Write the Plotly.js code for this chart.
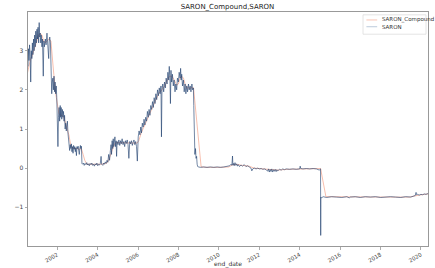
<!DOCTYPE html>
<html>
<head>
<meta charset="utf-8">
<script src="https://cdn.plot.ly/plotly-3.0.1.min.js"></script>
<style>html,body{margin:0;padding:0;background:#fff}#chart{width:435px;height:268px}</style>
</head>
<body>
<div id="chart"></div>
<script>
// SARON overnight rate (%)
const saronDates = [
"2000-07-01","2000-07-10","2000-07-20","2000-08-01","2000-08-10","2000-08-20","2000-09-01","2000-09-10","2000-09-20","2000-10-01","2000-10-10","2000-10-20",
"2000-11-01","2000-11-10","2000-11-20","2000-12-01","2000-12-10","2000-12-20","2001-01-01","2001-01-10","2001-01-20","2001-02-01","2001-02-10","2001-02-20",
"2001-03-01","2001-03-10","2001-03-20","2001-04-01","2001-04-10","2001-04-25","2001-05-05","2001-05-15","2001-06-01","2001-06-15","2001-07-01","2001-07-10",
"2001-07-20","2001-08-01","2001-08-10","2001-08-20","2001-09-01","2001-09-15","2001-09-25","2001-10-05","2001-10-15","2001-10-25","2001-11-05","2001-11-15",
"2001-11-25","2001-12-05","2001-12-15","2001-12-25","2002-01-05","2002-01-15","2002-01-25","2002-02-05","2002-02-15","2002-02-25","2002-03-05","2002-03-15",
"2002-03-25","2002-04-05","2002-04-15","2002-04-25","2002-05-05","2002-05-15","2002-05-25","2002-06-05","2002-06-15","2002-06-25","2002-07-05","2002-07-15",
"2002-07-25","2002-08-05","2002-08-15","2002-08-25","2002-09-05","2002-09-15","2002-09-25","2002-10-05","2002-10-15","2002-10-25","2002-11-05","2002-11-15",
"2002-11-25","2002-12-05","2002-12-15","2002-12-25","2003-01-05","2003-01-15","2003-01-25","2003-02-05","2003-02-15","2003-02-25","2003-03-05","2003-03-15",
"2003-03-25","2003-04-05","2003-04-20","2003-05-05","2003-05-20","2003-06-05","2003-06-20","2003-07-05","2003-07-20","2003-08-05","2003-08-20","2003-09-05",
"2003-09-20","2003-10-05","2003-10-20","2003-11-05","2003-11-20","2003-12-05","2003-12-20","2004-01-05","2004-01-20","2004-02-05","2004-02-20","2004-03-05",
"2004-03-15","2004-04-05","2004-04-20","2004-05-05","2004-05-20","2004-06-05","2004-06-20","2004-07-05","2004-07-20","2004-08-05","2004-08-20","2004-09-01",
"2004-09-10","2004-09-20","2004-10-01","2004-10-10","2004-10-20","2004-11-01","2004-11-10","2004-11-20","2004-12-01","2004-12-10","2004-12-20","2005-01-05",
"2005-01-20","2005-02-05","2005-02-20","2005-03-05","2005-03-20","2005-04-05","2005-04-20","2005-05-05","2005-05-20","2005-06-05","2005-06-20","2005-07-05",
"2005-07-20","2005-08-05","2005-08-20","2005-09-05","2005-09-20","2005-10-05","2005-10-20","2005-11-05","2005-11-20","2005-12-05","2005-12-20","2006-01-05",
"2006-01-20","2006-02-05","2006-02-20","2006-03-05","2006-03-20","2006-04-05","2006-04-20","2006-05-05","2006-05-20","2006-06-05","2006-06-20","2006-07-05",
"2006-07-20","2006-08-05","2006-08-20","2006-09-05","2006-09-20","2006-10-05","2006-10-20","2006-11-05","2006-11-20","2006-12-05","2006-12-20","2007-01-05",
"2007-01-20","2007-02-05","2007-02-20","2007-03-01","2007-03-10","2007-03-25","2007-04-10","2007-04-25","2007-05-10","2007-05-25","2007-06-10","2007-06-25",
"2007-07-10","2007-07-20","2007-08-01","2007-08-10","2007-08-20","2007-09-01","2007-09-15","2007-10-01","2007-10-15","2007-11-01","2007-11-15","2007-12-01",
"2007-12-15","2008-01-01","2008-01-15","2008-02-01","2008-02-10","2008-02-20","2008-03-01","2008-03-15","2008-04-01","2008-04-15","2008-05-01","2008-05-15",
"2008-06-01","2008-06-15","2008-07-01","2008-07-15","2008-08-01","2008-08-15","2008-09-01","2008-09-15","2008-09-28","2008-10-05","2008-10-15","2008-10-25",
"2008-11-05","2008-11-15","2008-11-25","2008-12-05","2008-12-15","2009-01-01","2009-02-01","2009-04-01","2009-06-01","2009-08-01","2009-10-01","2009-12-01",
"2010-02-01","2010-04-01","2010-06-01","2010-07-15","2010-08-10","2010-08-25","2010-09-05","2010-09-12","2010-09-25","2010-10-05","2010-10-20","2010-11-05",
"2010-11-20","2010-12-05","2010-12-20","2011-01-10","2011-02-05","2011-03-05","2011-04-05","2011-05-05","2011-06-05","2011-07-05","2011-08-05","2011-08-20",
"2011-09-05","2011-10-05","2011-11-05","2011-12-05","2012-01-05","2012-02-05","2012-03-05","2012-04-05","2012-05-05","2012-06-01","2012-06-15","2012-07-01",
"2012-07-15","2012-08-01","2012-08-15","2012-09-01","2012-09-15","2012-10-01","2012-10-15","2012-11-01","2012-11-15","2012-12-01","2013-01-01","2013-02-01",
"2013-03-01","2013-04-01","2013-05-01","2013-07-01","2013-09-01","2013-11-01","2014-01-01","2014-01-10","2014-01-20","2014-03-01","2014-05-01","2014-07-01",
"2014-09-01","2014-11-01","2014-12-01","2014-12-20","2015-01-13","2015-01-15","2015-01-16","2015-01-18","2015-02-01","2015-03-01","2015-05-01","2015-08-01",
"2015-11-01","2016-02-01","2016-05-01","2016-06-15","2016-07-01","2016-10-01","2017-01-01","2017-04-01","2017-07-01","2017-10-01","2018-01-01","2018-04-01",
"2018-07-01","2018-10-01","2019-01-01","2019-04-01","2019-07-01","2019-09-20","2019-10-05","2019-10-15","2019-11-01","2019-12-01","2020-01-01","2020-02-01",
"2020-03-01","2020-04-01","2020-05-08"];
const saronValues = [
2.45,2.95,2.6,3.05,2.75,3.15,2.85,2.2,3.0,2.8,3.2,2.9,
3.3,3.0,3.4,3.1,3.5,3.2,3.55,3.3,3.6,3.2,3.72,3.35,
3.45,3.2,3.4,3.1,3.3,2.35,3.25,3.1,3.3,3.15,3.45,3.2,
3.3,2.8,3.25,3.35,3.2,2.1,1.9,2.2,2.3,2.0,2.35,1.95,
2.2,1.9,2.1,1.8,1.0,0.55,1.3,1.55,1.2,1.6,1.3,1.55,
1.25,1.5,1.3,1.45,1.2,1.35,1.0,1.15,0.95,1.1,1.2,0.9,
0.65,0.55,0.45,0.6,0.5,0.62,0.42,0.55,0.38,0.58,0.48,0.55,
0.42,0.52,0.32,0.55,0.5,0.56,0.45,0.35,0.5,0.58,0.5,0.56,
0.12,0.1,0.13,0.07,0.12,0.09,0.14,0.08,0.11,0.06,0.12,0.09,
0.13,0.07,0.1,0.05,0.11,0.08,0.13,0.06,0.1,0.08,0.12,0.3,
0.1,0.07,0.13,0.1,0.16,0.12,0.2,0.15,0.35,0.2,0.45,0.6,
0.35,0.7,0.5,0.75,0.55,0.65,0.8,0.55,0.7,0.3,0.68,0.6,
0.72,0.58,0.7,0.62,0.75,0.6,0.68,0.55,0.7,0.63,0.72,0.6,
0.25,0.68,0.62,0.7,0.58,0.66,0.72,0.6,0.68,0.55,0.18,0.8,
0.95,0.85,1.05,0.9,1.15,1.05,1.25,1.1,1.3,1.2,1.45,1.3,
1.5,1.35,1.6,1.5,1.7,1.55,1.8,1.65,1.9,1.75,2.0,1.85,
2.05,1.9,2.1,0.8,2.0,2.15,1.95,2.2,2.05,2.3,2.15,2.45,
2.25,2.6,2.3,1.65,2.5,2.2,2.4,2.1,2.25,1.95,2.15,2.0,
2.3,2.2,2.45,2.3,2.55,2.25,2.4,2.1,2.25,1.95,2.15,1.9,
2.1,1.95,2.15,2.0,2.1,1.95,2.15,2.0,2.05,1.6,0.9,0.35,
0.5,0.25,0.3,0.1,0.04,0.03,0.02,0.03,0.02,0.03,0.02,0.03,
0.02,0.03,0.04,0.06,0.1,0.07,0.31,0.08,0.12,0.06,0.14,0.07,
0.11,0.05,0.09,0.04,0.08,0.05,0.09,0.04,0.06,0.03,0.0,-0.07,
-0.02,0.0,-0.02,0.0,-0.02,-0.01,-0.03,-0.02,-0.04,-0.08,-0.02,-0.1,
-0.03,-0.09,-0.02,-0.1,-0.04,-0.08,-0.03,-0.09,-0.04,-0.07,-0.03,-0.05,
-0.02,-0.04,-0.02,-0.03,-0.02,-0.03,-0.02,0.05,-0.01,-0.02,-0.01,-0.02,
-0.01,-0.02,-0.03,-0.05,-0.02,-0.72,-1.72,-0.74,-0.76,-0.73,-0.75,-0.73,
-0.74,-0.75,-0.73,-0.76,-0.74,-0.73,-0.75,-0.73,-0.74,-0.73,-0.75,-0.74,
-0.73,-0.74,-0.75,-0.73,-0.74,-0.7,-0.62,-0.68,-0.67,-0.69,-0.67,-0.68,
-0.66,-0.67,-0.65];

// SARON_Compound (%)
const compDates = [
"2000-07-01","2000-08-01","2000-09-01","2000-10-01","2000-11-01","2000-12-01","2001-01-01","2001-02-01","2001-03-01","2001-04-01","2001-05-01","2001-06-01",
"2001-07-01","2001-08-01","2001-09-10","2001-10-01","2001-11-01","2001-12-01","2002-01-01","2002-02-01","2002-03-01","2002-04-01","2002-05-01","2002-06-01",
"2002-07-01","2002-08-01","2002-09-01","2002-10-01","2002-11-01","2002-12-01","2003-01-01","2003-02-01","2003-03-15","2003-04-15","2003-05-15","2003-06-20",
"2003-09-01","2003-12-01","2004-03-01","2004-06-01","2004-07-01","2004-08-01","2004-09-01","2004-10-01","2004-11-01","2004-12-01","2005-06-01","2005-12-15",
"2006-01-15","2006-02-01","2006-03-01","2006-04-01","2006-05-01","2006-06-01","2006-07-01","2006-08-01","2006-09-01","2006-10-01","2006-11-01","2006-12-01",
"2007-01-01","2007-02-01","2007-03-01","2007-04-01","2007-05-01","2007-06-01","2007-07-01","2007-08-01","2007-09-01","2007-10-01","2007-11-01","2007-12-01",
"2008-01-01","2008-02-01","2008-03-01","2008-04-01","2008-05-01","2008-06-01","2008-07-01","2008-08-01","2008-09-01","2008-10-01","2009-02-15","2009-06-01",
"2010-01-01","2010-07-01","2010-09-01","2010-11-01","2011-03-01","2011-07-01","2011-10-01","2012-03-01","2012-08-01","2012-12-01","2013-06-01","2014-06-01",
"2015-01-14","2015-04-20","2016-06-01","2017-06-01","2018-06-01","2019-06-01","2019-09-20","2019-12-01","2020-03-01","2020-05-08"];
const compValues = [
2.35,2.55,2.75,2.85,3.0,3.15,3.3,3.4,3.45,3.4,3.25,3.2,
3.25,3.3,3.25,2.85,2.4,1.95,1.6,1.4,1.35,1.35,1.3,1.15,
1.05,0.85,0.6,0.52,0.5,0.5,0.5,0.48,0.5,0.35,0.2,0.1,
0.1,0.09,0.1,0.12,0.15,0.25,0.38,0.52,0.62,0.65,0.65,0.64,
0.7,0.8,0.9,1.0,1.1,1.2,1.3,1.4,1.5,1.6,1.7,1.8,
1.88,1.95,1.98,2.05,2.1,2.2,2.3,2.35,2.35,2.3,2.2,2.12,
2.15,2.3,2.35,2.3,2.15,2.05,2.05,2.05,2.05,2.05,0.03,0.02,
0.02,0.03,0.08,0.1,0.07,0.05,0.0,-0.02,-0.05,-0.05,-0.03,-0.02,
-0.01,-0.73,-0.74,-0.73,-0.74,-0.74,-0.72,-0.69,-0.67,-0.66];

const seriesNames = ["SARON_Compound", "SARON"];
const yTicks = [-1, 0, 1, 2, 3];
const xTickYears = ["2002","2004","2006","2008","2010","2012","2014","2016","2018","2020"];

const compColor = "#f29a80", saronColor = "#1c3d6c";
const legendColors = ["#f8c4b4", "#bccadb"];

const traces = [
  {x: compDates, y: compValues, type: "scatter", mode: "lines", name: seriesNames[0],
   line: {color: compColor, width: 0.8}, opacity: 0.8, hoverinfo: "skip"},
  {x: saronDates, y: saronValues, type: "scatter", mode: "lines", name: seriesNames[1],
   line: {color: saronColor, width: 0.75}, opacity: 0.82, hoverinfo: "skip"}
];

// hand-built legend box (paper coordinates)
const legendRows = [0.966, 0.937];
const shapes = [
  {type: "rect", xref: "paper", yref: "paper", x0: 0.8375, x1: 0.995, y0: 0.905, y1: 0.988,
   line: {color: "#dddddd", width: 0.8}, fillcolor: "rgba(255,255,255,0.85)", layer: "above"}
];
const annotations = [];
seriesNames.forEach((n, i) => {
  shapes.push({type: "line", xref: "paper", yref: "paper", x0: 0.846, x1: 0.873,
    y0: legendRows[i], y1: legendRows[i], line: {color: legendColors[i], width: 1}, layer: "above"});
  annotations.push({xref: "paper", yref: "paper", x: 0.879, y: legendRows[i], xanchor: "left", yanchor: "middle",
    text: n, showarrow: false, font: {size: 5.5, color: "#333"}});
});

const layout = {
  width: 435, height: 268,
  margin: {l: 28, r: 7, t: 12, b: 22, pad: 0},
  paper_bgcolor: "#fff", plot_bgcolor: "#fff",
  font: {family: "DejaVu Sans, sans-serif", size: 6, color: "#333"},
  title: {text: "SARON_Compound,SARON", font: {size: 7, color: "#222"}, x: 0.523, xanchor: "center", y: 0.985, yanchor: "top"},
  xaxis: {
    type: "date",
    range: ["2000-07-23", "2020-05-08"],
    tickvals: xTickYears.map(y => y + "-01-01"),
    ticktext: xTickYears,
    tickangle: -30,
    ticks: "outside", ticklen: 2.5, tickcolor: "#777", tickwidth: 0.6,
    tickfont: {size: 5.5, color: "#444"},
    showgrid: false, zeroline: false,
    showline: true, linecolor: "#999", linewidth: 1, mirror: true,
    title: {text: "end_date", font: {size: 6, color: "#333"}, standoff: 2}
  },
  yaxis: {
    range: [-1.99, 3.99],
    tickvals: yTicks,
    ticks: "outside", ticklen: 2.5, tickcolor: "#777", tickwidth: 0.6,
    tickfont: {size: 6, color: "#444"},
    showgrid: false, zeroline: false,
    showline: true, linecolor: "#999", linewidth: 1, mirror: true
  },
  shapes: shapes,
  annotations: annotations,
  showlegend: false
};

Plotly.newPlot("chart", traces, layout, {staticPlot: true, displayModeBar: false});
</script>
</body>
</html>
